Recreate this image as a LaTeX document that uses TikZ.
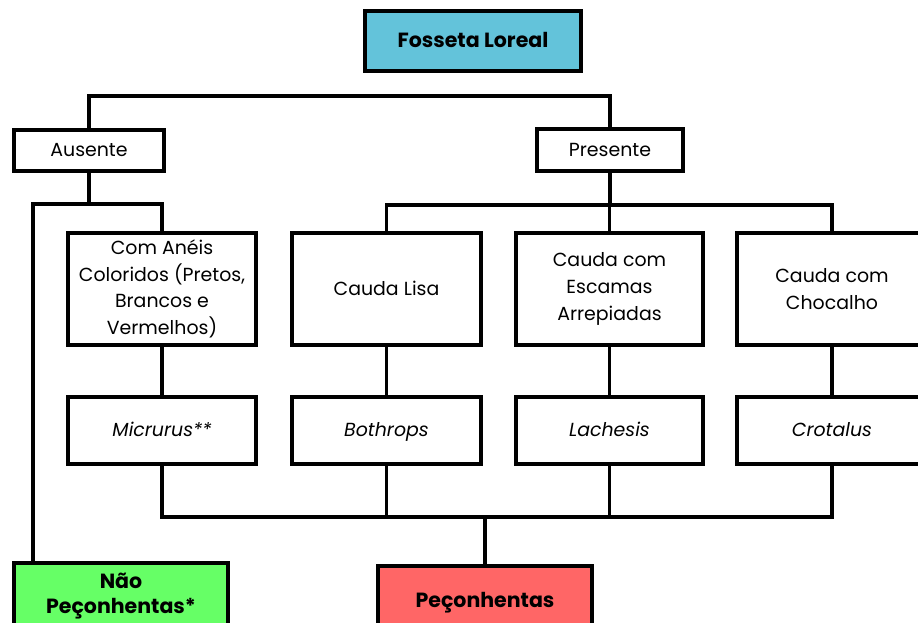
\documentclass[tikz,border=0pt]{standalone}
\usepackage{fontspec}
\setmainfont{Poppins}
\definecolor{topblue}{HTML}{63C3DA}
\definecolor{nogreen}{HTML}{66FF66}
\definecolor{yesred}{HTML}{FF6666}
\begin{document}
\begin{tikzpicture}[x=0.75pt,y=-0.75pt,
  box/.style={draw=black,line width=2.3pt,fill=white,inner sep=2pt,align=center,
    font=\fontsize{14.2}{20}\selectfont},
  oneline/.style={text height=0.98em,text depth=0.08em},
  titlebox/.style={box,font=\fontsize{15.4}{20}\selectfont\bfseries},
  conn/.style={line width=2.3pt,line cap=rect}]
\useasboundingbox (0,0) rectangle (918,622);
% top level
\node[titlebox,oneline,fill=topblue,minimum width=162pt,minimum height=45pt] (top) at (473,41) {Fosseta Loreal};
\node[box,oneline,minimum width=112.5pt,minimum height=30.75pt] (aus) at (89,150.5) {Ausente};
\node[box,oneline,minimum width=109.5pt,minimum height=31.5pt] (pres) at (610,150) {Presente};
% row 2
\node[box,minimum width=141pt,minimum height=84pt] (anei) at (162,289) {Com Anéis\\Coloridos (Pretos,\\Brancos e\\Vermelhos)};
\node[box,oneline,minimum width=141.75pt,minimum height=84pt] (lisa) at (386.5,289) {Cauda Lisa};
\node[box,minimum width=140.25pt,minimum height=84pt] (esc) at (609.5,289) {Cauda com\\Escamas\\Arrepiadas};
\node[box,minimum width=142.5pt,minimum height=84pt] (choc) at (832,289) {Cauda com\\Chocalho};
% row 3
\node[box,oneline,minimum width=141pt,minimum height=50.25pt] (mic) at (162,430.5) {\itshape Micrurus**};
\node[box,oneline,minimum width=141.75pt,minimum height=50.25pt] (both) at (386.5,430.5) {\itshape Bothrops};
\node[box,oneline,minimum width=140.25pt,minimum height=50.25pt] (lach) at (609.5,430.5) {\itshape Lachesis};
\node[box,oneline,minimum width=142.5pt,minimum height=50.25pt] (crot) at (832,430.5) {\itshape Crotalus};
% bottom
\node[titlebox,fill=nogreen,minimum width=160.5pt,minimum height=49.5pt,
  font=\fontsize{15.4}{18.5}\selectfont\bfseries] (nao) at (121,596) {Não\\Peçonhentas*};
\node[titlebox,oneline,fill=yesred,minimum width=160.5pt,minimum height=52.5pt] (pec) at (485,601) {Peçonhentas};
% junction coordinates
\coordinate (topline) at (0,96);
\coordinate (ausj) at (33,204);
\coordinate (presj) at (0,205);
\coordinate (botj) at (0,517);
% connectors
\draw[conn] (aus.north) |- (topline -| pres.north) -- (pres.north);
\draw[conn] (aus.south) -- (aus.south |- ausj);
\draw[conn] (ausj |- nao.north) -- (ausj) -| (anei.north);
\draw[conn] (lisa.north) |- (presj -| choc.north) -- (choc.north);
\draw[conn] (pres.south) -- (pres.south |- presj);
\draw[conn] (esc.north) -- (esc.north |- presj);
\draw[conn] (anei.south) -- (mic.north);
\draw[conn] (lisa.south) -- (both.north);
\draw[conn] (esc.south) -- (lach.north);
\draw[conn] (choc.south) -- (crot.north);
\draw[conn] (mic.south) |- (botj -| crot.south) -- (crot.south);
\draw[conn] (both.south) -- (both.south |- botj);
\draw[conn] (lach.south) -- (lach.south |- botj);
\draw[conn] (pec.north) -- (pec.north |- botj);
\end{tikzpicture}
\end{document}
